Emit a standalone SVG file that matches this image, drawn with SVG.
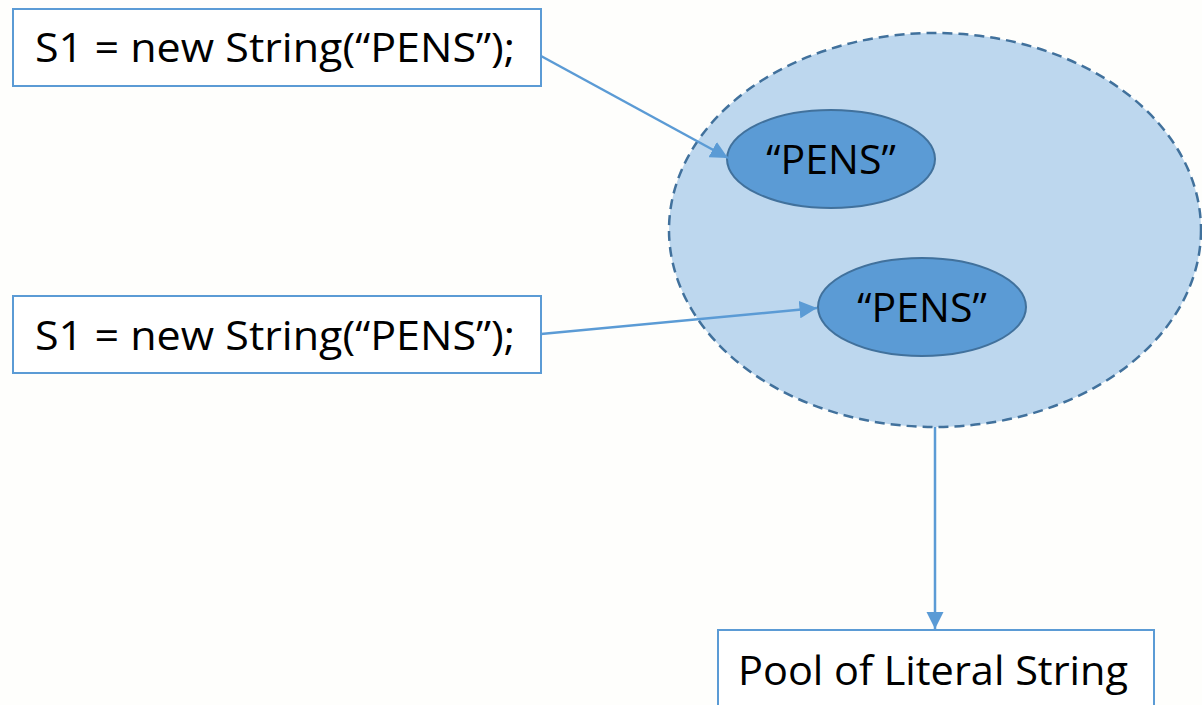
<svg xmlns="http://www.w3.org/2000/svg" width="1202" height="705" viewBox="0 0 1202 705">
<defs>
<style>
.box{fill:#FFFFFF;stroke:#5B9BD5;stroke-width:2}
.t{font-family:"Open Sans","Liberation Sans",sans-serif;font-size:41px;fill:#000}
.conn{stroke:#5B9BD5;stroke-width:2.5;fill:none}
.inner{fill:#5B9BD5;stroke:#41719C;stroke-width:2}
</style>
<marker id="arr" viewBox="0 0 10 10" refX="10" refY="5" markerWidth="7" markerHeight="7" markerUnits="strokeWidth" orient="auto">
<path d="M0,0 L10,5 L0,10 z" fill="#5B9BD5"/>
</marker>
</defs>
<rect width="1202" height="705" fill="#FEFEFC"/>
<g id="pool">
<ellipse cx="935" cy="230" rx="266" ry="197" fill="#BDD7EE" stroke="#41719C" stroke-width="2.5" stroke-dasharray="10,6"/>
</g>
<g id="pens1">
<ellipse class="inner" cx="831" cy="159" rx="104" ry="49"/>
<text class="t" x="831" y="174" text-anchor="middle">“PENS”</text>
</g>
<g id="pens2">
<ellipse class="inner" cx="922" cy="307" rx="104" ry="49"/>
<text class="t" x="922" y="322" text-anchor="middle">“PENS”</text>
</g>
<g id="s1a">
<rect class="box" x="13" y="9" width="528" height="77"/>
<text class="t" x="35" y="62" textLength="480" lengthAdjust="spacingAndGlyphs">S1 = new String(“PENS”);</text>
</g>
<g id="s1b">
<rect class="box" x="13" y="296" width="528" height="77"/>
<text class="t" x="35" y="350" textLength="480" lengthAdjust="spacingAndGlyphs">S1 = new String(“PENS”);</text>
</g>
<g id="label">
<rect class="box" x="718" y="630" width="436" height="82"/>
<text class="t" x="738" y="685" textLength="390" lengthAdjust="spacingAndGlyphs">Pool of Literal String</text>
</g>
<g id="connectors">
<line class="conn" x1="541" y1="56" x2="728" y2="158" marker-end="url(#arr)"/>
<line class="conn" x1="541" y1="334" x2="817" y2="308" marker-end="url(#arr)"/>
<line class="conn" x1="935" y1="427" x2="935" y2="629" marker-end="url(#arr)"/>
</g>
</svg>
